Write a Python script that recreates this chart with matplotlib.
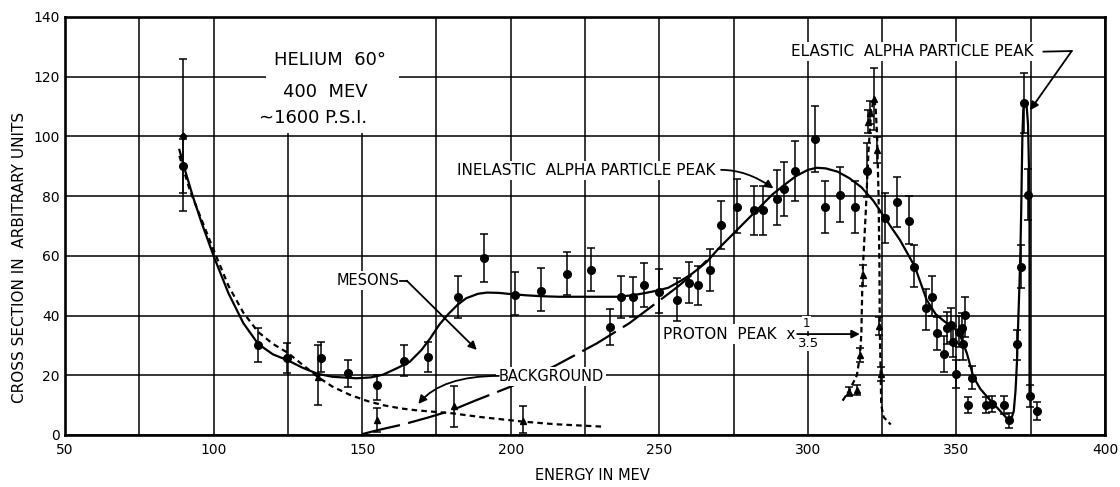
import numpy as np
import matplotlib
matplotlib.use("Agg")
import matplotlib.pyplot as plt
from matplotlib.patches import Rectangle

plt.rcParams['font.family'] = ['DejaVu Sans']
plt.rcParams['lines.scale_dashes'] = False

# ---------------- data ----------------
# circles with error bars: energy, value, lower, upper
circ_E = [89.7, 115.1, 124.8, 136.2, 145.1, 155.1, 164.2, 172.1, 182.2, 191.0,
          201.3, 210.1, 219.0, 227.0, 233.4, 237.1, 241.2, 245.0, 249.8, 255.8,
          259.9, 263.0, 266.9, 270.7, 276.1, 281.9, 284.9, 289.7, 292.0, 295.8,
          302.5, 305.9, 310.9, 316.0, 319.8, 325.8, 329.9, 333.9, 335.8, 339.8,
          341.9, 343.5, 345.9, 346.8, 348.1, 349.0, 349.8, 351.0, 351.8, 352.1,
          352.9, 355.4, 353.8, 360.0, 361.9, 366.0, 367.8, 370.5, 371.7, 372.9,
          374.0, 374.6, 377.0]
circ_Y = [90.2, 30.1, 25.7, 25.9, 20.9, 16.7, 24.9, 26.0, 46.3, 59.2,
          46.9, 48.2, 53.8, 55.3, 36.3, 46.3, 46.3, 50.2, 48.0, 45.2,
          51.0, 50.2, 55.3, 70.3, 76.5, 75.3, 75.3, 79.2, 82.4, 88.5,
          99.3, 76.5, 80.5, 76.5, 88.5, 72.6, 78.1, 71.7, 56.4, 42.6,
          46.1, 34.1, 27.0, 35.9, 36.8, 31.3, 20.3, 34.6, 35.7, 30.4,
          40.2, 19.2, 10.0, 10.0, 10.4, 10.0, 5.0, 30.4, 56.4, 111.1,
          80.4, 13.1, 8.0]
circ_lo = [81.0, 24.4, 20.9, 21.0, 16.1, 11.6, 19.6, 21.0, 39.1, 51.1,
           40.1, 41.5, 46.8, 48.3, 30.1, 39.1, 39.4, 42.8, 40.8, 38.3,
           44.1, 43.5, 48.3, 62.2, 67.5, 67.0, 67.0, 70.3, 73.4, 78.5,
           88.2, 67.5, 71.2, 67.5, 79.8, 64.4, 69.8, 64.0, 49.5, 35.2,
           39.9, 28.5, 21.2, 30.5, 31.2, 26.0, 15.6, 29.5, 30.5, 25.2,
           32.9, 15.5, 7.3, 7.3, 7.6, 7.0, 2.5, 25.1, 49.1, 101.0,
           72.0, 9.5, 5.0]
circ_hi = [99.0, 35.7, 30.9, 31.0, 25.1, 20.0, 30.0, 31.0, 53.3, 67.3,
           54.5, 55.8, 61.3, 62.6, 42.2, 53.2, 53.0, 57.6, 55.5, 52.5,
           58.0, 56.5, 62.3, 78.5, 85.6, 83.4, 83.4, 88.7, 91.5, 98.5,
           110.3, 85.2, 89.6, 85.2, 97.7, 80.9, 86.5, 80.0, 63.6, 48.8,
           53.2, 39.6, 33.2, 41.3, 42.4, 36.6, 25.1, 39.7, 41.0, 35.6,
           46.3, 23.0, 12.8, 12.8, 13.2, 13.0, 7.5, 35.2, 63.6, 121.1,
           89.0, 16.7, 11.0]

# diamond point at 90 MeV
dia_E = [89.7]
dia_Y = [100.0]
dia_lo = [75.0]
dia_hi = [126.0]

# background (triangles)
bgpt_E = [135.0, 155.1, 181.0, 204.0]
bgpt_Y = [19.5, 5.0, 9.8, 4.8]
bgpt_lo = [10.0, 1.0, 2.8, 0.6]
bgpt_hi = [30.1, 9.0, 16.5, 9.8]

# proton peak points (triangles, x 1/3.5)
prot_E = [313.7, 316.5, 317.6, 318.4, 320.4, 321.0, 322.1, 323.2, 324.0, 324.7]
prot_Y = [14.5, 15.1, 26.8, 53.6, 105.0, 108.0, 112.4, 95.4, 36.5, 20.4]
prot_lo = [13.0, 13.5, 24.5, 50.0, 101.0, 104.0, 102.0, 91.0, 33.5, 18.0]
prot_hi = [16.0, 16.7, 29.0, 57.0, 109.0, 112.0, 122.8, 99.8, 39.5, 22.8]

# smooth fit curve (solid)
fit_E = [88.5, 90, 93, 96, 100, 105, 110, 115, 120, 125, 130, 135, 140, 148,
         153, 157, 162, 166, 170, 173, 176, 179, 182, 185, 189, 192, 196, 200,
         205, 210, 216, 236, 241, 245, 249, 253, 257, 261, 266, 270, 275, 280,
         284, 288, 292, 296, 300, 303, 306, 310, 314, 318, 322, 326, 331, 336,
         340, 343, 346, 349, 351, 353.5, 355.7, 358, 361.3, 364.5, 367.5, 368.5,
         369.3, 369.9, 370.4, 370.8, 371.2, 371.5, 371.8, 372.0, 372.2, 372.5,
         373.0, 373.6, 374.1, 374.4, 374.6, 374.6, 374.6]
fit_Y = [95.5, 90, 80, 71, 60, 47.5, 37.5, 30.5, 27, 25, 22.5, 20.5, 19.5, 19,
         19.3, 20.2, 22.5, 24.5, 28.5, 32.5, 37, 40.5, 43.5, 45.8, 47.3, 47.7,
         47.6, 47.2, 46.8, 46.5, 46.3, 46.3, 46.8, 47.5, 48.3, 49.3, 51.5, 54,
         58, 62.5, 67.5, 72.5, 76.5, 80.5, 83.7, 86.7, 88.8, 89.5, 89.3, 88.2,
         86, 83, 78.5, 72.6, 65.3, 56.4, 45.2, 40.5, 38, 36, 34, 27.4, 19.5,
         15.5, 11.7, 8.3, 5.0, 5.5, 8, 15, 25, 38, 50, 60, 75, 88, 100, 109,
         111.5, 110.5, 104, 90, 70, 40, 14]

# background curve (short dashes)
bg1_E = [88.5, 92, 96, 100, 105, 110, 115, 120, 125, 130, 135, 140, 146, 152,
         157, 163, 168, 175, 180, 190, 204, 215, 231]
bg1_Y = [93.5, 82, 72, 62, 50, 41, 34.5, 30.5, 27.5, 23.5, 19.5, 16.2, 13.4,
         11.3, 10.0, 8.9, 8.3, 7.7, 7.3, 6.0, 4.5, 3.6, 2.8]

# rising background (long dashes)
bg2_E = [150, 156, 164, 172, 180, 188, 200, 215, 229, 240, 248, 256, 262, 266]
bg2_Y = [0.3, 1.8, 3.6, 5.8, 8.2, 11.5, 16.2, 23.2, 30.7, 37.5, 43.5, 49.5,
         54.5, 58.5]

# proton peak curve (dashed)
pcur_E = [311.7, 314, 316.5, 317.6, 318.0, 318.4, 319.5, 320.4, 321.2, 322.1,
          322.8, 323.3, 323.8, 324.1, 324.2, 324.5, 324.7, 325.5, 327.9]
pcur_Y = [11.5, 15, 20, 27, 34, 53.6, 75, 95, 107, 112.5, 110, 100, 80, 55,
          36.5, 20, 10, 6, 3.5]

x_ticks = [50, 100, 150, 200, 250, 300, 350, 400]
y_ticks = [0, 20, 40, 60, 80, 100, 120, 140]

# ---------------- figure ----------------
W, H = 1120, 487
fig = plt.figure(figsize=(W / 100, H / 100), dpi=100)
ax = fig.add_axes([65 / W, 52 / H, 1040 / W, 418 / H])
ax.set_xlim(50, 400)
ax.set_ylim(0, 140)

ax.set_xticks(x_ticks)
ax.set_xticks(np.arange(75, 400, 50), minor=True)
ax.set_yticks(y_ticks)
ax.grid(True, which='both', color='black', linewidth=1.1, zorder=0)
ax.set_axisbelow(True)
ax.tick_params(which='both', length=0)
ax.tick_params(axis='x', pad=6, labelsize=10)
ax.tick_params(axis='y', pad=4, labelsize=10)
for s in ax.spines.values():
    s.set_linewidth(1.9)
    s.set_zorder(5)

# white box behind title text
ax.add_patch(Rectangle((117.5, 101), 45, 39, facecolor='white',
                       edgecolor='none', zorder=1))

# curves
ax.plot(fit_E, fit_Y, color='black', lw=1.6, zorder=3)
ax.plot(bg1_E, bg1_Y, color='black', lw=1.6, linestyle=(0, (4, 3)), zorder=3)
ax.plot(bg2_E, bg2_Y, color='black', lw=1.6, linestyle=(0, (28, 6)), zorder=3)
ax.plot(pcur_E, pcur_Y, color='black', lw=1.6, linestyle=(0, (4, 2.5)), zorder=3)

ebkw = dict(color='black', ecolor='black', elinewidth=1.1, capsize=3,
            capthick=1.1, linestyle='none', zorder=4)

def yerr(v, lo, hi):
    v = np.asarray(v); lo = np.asarray(lo); hi = np.asarray(hi)
    return [v - lo, hi - v]

ax.errorbar(circ_E, circ_Y, yerr=yerr(circ_Y, circ_lo, circ_hi),
            fmt='o', ms=5.5, **ebkw)
ax.errorbar(dia_E, dia_Y, yerr=yerr(dia_Y, dia_lo, dia_hi),
            fmt='D', ms=3.5, **ebkw)
ax.errorbar(bgpt_E, bgpt_Y, yerr=yerr(bgpt_Y, bgpt_lo, bgpt_hi),
            fmt='^', ms=5, **ebkw)
ax.errorbar(prot_E, prot_Y, yerr=yerr(prot_Y, prot_lo, prot_hi),
            fmt='^', ms=4.5, **ebkw)

# ---------------- text and leaders ----------------
wbox = dict(facecolor='white', edgecolor='none', pad=1.5)
ax.text(139.2, 125.6, "HELIUM  60°", fontsize=13, ha='center', va='center', zorder=6)
ax.text(137.5, 115.0, "400  MEV", fontsize=13, ha='center', va='center', zorder=6)
ax.text(133.6, 106.1, "∼1600 P.S.I.", fontsize=13, ha='center', va='center', zorder=6)

arr = dict(arrowstyle='-|>', color='black', lw=1.3, mutation_scale=12,
           shrinkA=0, shrinkB=0)

# MESONS
ax.text(152.0, 51.7, "MESONS", fontsize=10.5, ha='center', va='center',
        bbox=wbox, zorder=6)
ax.plot([162.6, 165.0], [51.7, 51.7], color='black', lw=1.3, zorder=6)
ax.annotate("", xy=(188.6, 28.5), xytext=(165.0, 51.7), arrowprops=arr, zorder=6)

# BACKGROUND
ax.text(213.6, 19.6, "BACKGROUND", fontsize=10.5, ha='center', va='center',
        bbox=wbox, zorder=6)
ax.annotate("", xy=(168.9, 10.4), xytext=(196.0, 19.8),
            arrowprops=dict(arr, connectionstyle="angle3,angleA=0,angleB=50"),
            zorder=6)

# INELASTIC
ax.text(225.5, 88.7, "INELASTIC  ALPHA PARTICLE PEAK", fontsize=11,
        ha='center', va='center', bbox=wbox, zorder=6)
ax.annotate("", xy=(288.4, 82.6), xytext=(270.8, 88.8),
            arrowprops=dict(arr, connectionstyle="angle3,angleA=0,angleB=-35"),
            zorder=6)

# PROTON PEAK
ax.text(295.7, 33.8, "PROTON  PEAK  x", fontsize=11, ha='right', va='center',
        bbox=wbox, zorder=6)
ax.text(299.6, 37.3, "1", fontsize=8.5, ha='center', va='center',
        bbox=dict(wbox, pad=0.5), zorder=6)
ax.text(300.2, 30.6, "3.5", fontsize=9.5, ha='center', va='center',
        bbox=dict(wbox, pad=0.5), zorder=6)
ax.annotate("", xy=(317.5, 33.8), xytext=(296.4, 33.8), arrowprops=arr, zorder=6)

# ELASTIC
ax.text(335.2, 128.4, "ELASTIC  ALPHA PARTICLE PEAK", fontsize=11,
        ha='center', va='center', bbox=wbox, zorder=6)
ax.plot([379.3, 388.8], [128.4, 128.6], color='black', lw=1.3, zorder=6)
ax.annotate("", xy=(374.8, 108.8), xytext=(388.8, 128.6), arrowprops=arr, zorder=6)

# axis labels
fig.text(20 / W, 1 - 257.5 / H, "CROSS SECTION IN  ARBITRARY UNITS",
         rotation=90, fontsize=11, ha='center', va='center')
fig.text(592 / W, 1 - 476 / H, "ENERGY IN MEV", fontsize=10.5,
         ha='center', va='center')

fig.savefig("out.png", dpi=100, facecolor='white')
